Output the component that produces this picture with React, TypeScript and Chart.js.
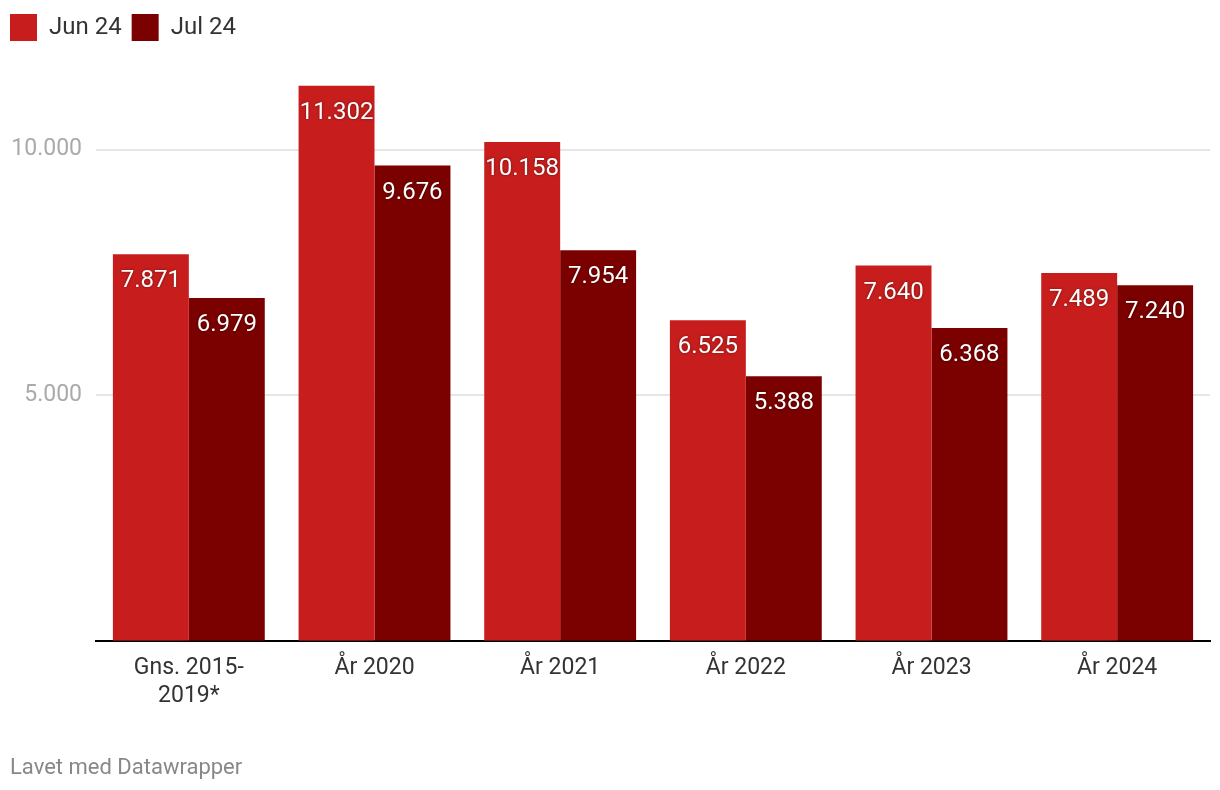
import React, { useEffect, useRef } from "react";
import { Chart, registerables } from "chart.js";

Chart.register(...registerables);

const categories: (string | string[])[] = [["Gns. 2015-", "2019*"], "År 2020", "År 2021", "År 2022", "År 2023", "År 2024"];
const seriesNames = ["Jun 24", "Jul 24"];
const jun24 = [7871, 11302, 10158, 6525, 7640, 7489];
const jul24 = [6979, 9676, 7954, 5388, 6368, 7240];
const yTicks = [5000, 10000];
const footerText = "Lavet med Datawrapper";

const colors = ["#c71e1d", "#7b0000"];

const fmt = (v: number) => Math.round(v).toString().replace(/\B(?=(\d{3})+(?!\d))/g, ".");

const valueLabels = {
  id: "valueLabels",
  afterDatasetsDraw(chart: any) {
    const ctx = chart.ctx;
    ctx.save();
    ctx.font = "24px Roboto";
    ctx.fillStyle = "#ffffff";
    ctx.textAlign = "center";
    ctx.textBaseline = "alphabetic";
    ctx.shadowColor = "rgba(0,0,0,0.45)";
    ctx.shadowBlur = 3;
    chart.data.datasets.forEach((ds: any, i: number) => {
      const meta = chart.getDatasetMeta(i);
      meta.data.forEach((el: any, j: number) => {
        ctx.fillText(fmt(ds.data[j]), el.x, el.y + 33);
      });
    });
    ctx.restore();
  },
};

const footer = {
  id: "footer",
  afterDraw(chart: any) {
    const ctx = chart.ctx;
    ctx.save();
    ctx.font = "22px Roboto";
    ctx.fillStyle = "#888888";
    ctx.textAlign = "left";
    ctx.textBaseline = "alphabetic";
    ctx.fillText(footerText, 10, 774);
    ctx.restore();
  },
};

export default function App() {
  const ref = useRef<HTMLCanvasElement | null>(null);
  useEffect(() => {
    if (!ref.current) return;
    const chart = new Chart(ref.current, {
      type: "bar",
      data: {
        labels: categories,
        datasets: [
          { label: seriesNames[0], data: jun24, backgroundColor: colors[0], borderWidth: 0 },
          { label: seriesNames[1], data: jul24, backgroundColor: colors[1], borderWidth: 0 },
        ],
      },
      options: {
        animation: false,
        responsive: false,
        maintainAspectRatio: false,
        devicePixelRatio: 1,
        font: { family: "Roboto" },
        layout: { padding: { top: 4, left: 0, right: 10, bottom: 66 } },
        datasets: { bar: { categoryPercentage: 0.818, barPercentage: 1.0 } },
        plugins: {
          legend: {
            display: true,
            position: "top",
            align: "start",
            labels: {
              boxWidth: 27,
              boxHeight: 27,
              padding: 10,
              color: "#333333",
              font: { family: "Roboto", size: 24 },
            },
          },
          tooltip: { enabled: false },
        },
        scales: {
          x: {
            grid: { display: false, drawTicks: false },
            border: { display: true, color: "#000000", width: 2 },
            ticks: {
              color: "#333333",
              font: { family: "Roboto", size: 23, lineHeight: 1.2 },
              padding: 14,
              maxRotation: 0,
              autoSkip: false,
            },
          },
          y: {
            min: 0,
            max: 12010,
            afterFit(scale: any) {
              scale.width = 96;
            },
            afterBuildTicks(scale: any) {
              scale.ticks = yTicks.map((v) => ({ value: v }));
            },
            grid: { color: "#e6e6e6", lineWidth: 2, drawTicks: false },
            border: { display: false },
            ticks: {
              color: "#aaaaaa",
              font: { family: "Roboto", size: 23 },
              padding: 14,
              callback: (v: any) => fmt(Number(v)),
            },
          },
        },
      },
      plugins: [valueLabels, footer],
    } as any);
    return () => chart.destroy();
  }, []);
  return (
    <div style={{ position: "absolute", left: 0, top: 0, width: 1220, height: 790, background: "#fff" }}>
      <canvas ref={ref} width={1220} height={790} style={{ width: 1220, height: 790 }} />
    </div>
  );
}
